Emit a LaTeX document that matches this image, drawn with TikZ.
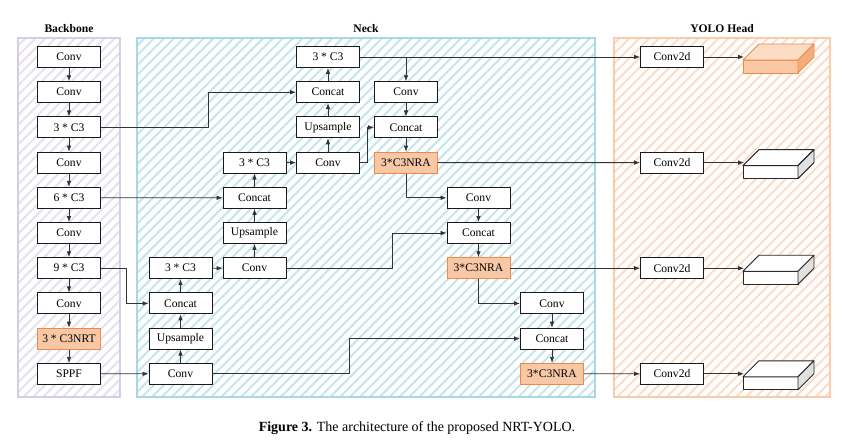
\documentclass[tikz,border=0pt]{standalone}
\usepackage{fontspec}
\setmainfont{Liberation Serif}
\usepackage{tikz}
\usetikzlibrary{patterns.meta, arrows.meta}

\definecolor{nraFill}{HTML}{F8C8A6}
\definecolor{nraLine}{HTML}{EE8A45}
\definecolor{bbHatch}{HTML}{E6E0EF}
\definecolor{bbLine}{HTML}{D5CCE5}
\definecolor{nkHatch}{HTML}{C4E4EE}
\definecolor{nkLine}{HTML}{A8D8E6}
\definecolor{hdHatch}{HTML}{FCDCC6}
\definecolor{hdLine}{HTML}{F9CBA8}
\definecolor{cubeTop}{HTML}{FBDDC6}
\definecolor{cubeSide}{HTML}{F4AE7C}

% 立方体: 名称, y, 正面, 顶面, 侧面, 边线
\newcommand{\drawcube}[6]{%
    \coordinate (#1) at (744,#2);
    \filldraw[fill=#3, draw=#6, line width=0.9pt, line join=round] (743,#2+3) rectangle ++(55,13);
    \filldraw[fill=#4, draw=#6, line width=0.9pt, line join=round] (743,#2+3) -- ++(16,-16) -- ++(55,0) -- ++(-16,16) -- cycle;
    \filldraw[fill=#5, draw=#6, line width=0.9pt, line join=round] (798,#2+3) -- ++(16,-16) -- ++(0,13) -- ++(-16,16) -- cycle;
}

\begin{document}
\begin{tikzpicture}[
                x=1pt, y=-1pt,
                node distance=35.2pt,
                every node/.style={font=\fontsize{11.6}{13}\selectfont},
                blk/.style={draw=black!90, fill=white, line width=0.9pt, minimum width=63pt, minimum height=21pt, inner sep=0pt},
                nra/.style={blk, fill=nraFill, draw=nraLine},
                title/.style={font=\fontsize{11.6}{13}\selectfont\bfseries},
                hatch/.style={pattern={Lines[angle=45,distance=7pt,line width=2pt]}},
                >={Latex[length=6pt,width=4.6pt]},
                arrow/.style={->, line width=0.8pt, draw=black!80}
            ]
                \useasboundingbox (0,0) rectangle (848,440);

                % 背景区域
                \path[hatch, pattern color=bbHatch] (18,38) rectangle (120,397);
                \draw[bbLine, line width=1.2pt] (18,38) rectangle (120,397);
                \path[hatch, pattern color=nkHatch] (137,38) rectangle (595,397);
                \draw[nkLine, line width=1.2pt] (137,38) rectangle (595,397);
                \path[hatch, pattern color=hdHatch] (614,38) rectangle (830,397);
                \draw[hdLine, line width=1.2pt] (614,38) rectangle (830,397);

                \node[title] (tb) at (69,29) {Backbone};
                \node[title] (tn) at (366,29) {Neck};
                \node[title] (th) at (722,29) {YOLO Head};

                % Backbone
                \node[blk] (b1) at (69,57) {Conv};
                \node[blk] (b2) [below of=b1] {Conv};
                \node[blk] (b3) [below of=b2] {3 * C3};
                \node[blk] (b4) [below of=b3] {Conv};
                \node[blk] (b5) [below of=b4] {6 * C3};
                \node[blk] (b6) [below of=b5] {Conv};
                \node[blk] (b7) [below of=b6] {9 * C3};
                \node[blk] (b8) [below of=b7] {Conv};
                \node[nra] (b9) [below of=b8] {3 * C3NRT};
                \node[blk] (b10) [below of=b9] {SPPF};

                % Neck
                \node[blk] (n1a) at (180.5,373.8) {Conv};
                \node[blk] (n1b) [above of=n1a] {Upsample};
                \node[blk] (n1c) [above of=n1b] {Concat};
                \node[blk] (n1d) [above of=n1c] {3 * C3};

                \node[blk] (n2a) at (254.5,268.2) {Conv};
                \node[blk] (n2b) [above of=n2a] {Upsample};
                \node[blk] (n2c) [above of=n2b] {Concat};
                \node[blk] (n2d) [above of=n2c] {3 * C3};

                \node[blk] (n3a) at (328,162.6) {Conv};
                \node[blk] (n3b) [above of=n3a] {Upsample};
                \node[blk] (n3c) [above of=n3b] {Concat};
                \node[blk] (n3d) [above of=n3c] {3 * C3};

                \node[blk] (n4a) at (406,92.2) {Conv};
                \node[blk] (n4b) [below of=n4a] {Concat};
                \node[nra] (n4c) [below of=n4b] {3*C3NRA};

                \node[blk] (n5a) at (478.5,197.8) {Conv};
                \node[blk] (n5b) [below of=n5a] {Concat};
                \node[nra] (n5c) [below of=n5b] {3*C3NRA};

                \node[blk] (n6a) at (552,303.4) {Conv};
                \node[blk] (n6b) [below of=n6a] {Concat};
                \node[nra] (n6c) [below of=n6b] {3*C3NRA};

                % Head
                \node[blk] (h1) at (672,57) {Conv2d};
                \node[blk] (h2) at (672,162.6) {Conv2d};
                \node[blk] (h3) at (672,268.2) {Conv2d};
                \node[blk] (h4) at (672,373.8) {Conv2d};

                \drawcube{c1}{57}{nraFill}{cubeTop}{cubeSide}{nraLine}
                \drawcube{c2}{162.6}{white}{white}{black!12}{black!85}
                \drawcube{c3}{268.2}{white}{white}{black!12}{black!85}
                \drawcube{c4}{373.8}{white}{white}{black!12}{black!85}

                % 边
                \foreach \a/\b in {b1/b2, b2/b3, b3/b4, b4/b5, b5/b6, b6/b7, b7/b8, b8/b9, b9/b10,
                                   n1a/n1b, n1b/n1c, n1c/n1d, n2a/n2b, n2b/n2c, n2c/n2d,
                                   n3a/n3b, n3b/n3c, n3c/n3d, n4a/n4b, n4b/n4c,
                                   n5a/n5b, n5b/n5c, n6a/n6b, n6b/n6c}
                    \draw[arrow] (\a) -- (\b);

                \draw[arrow] (b10) -- (n1a);
                \draw[arrow] (b7.east) -- ++(25,0) |- (n1c.west);
                \draw[arrow] (b5) -- (n2c);
                \draw[arrow] (b3.east) -- ++(107,0) |- (n3c.west);
                \draw[arrow] (n1d) -- (n2a);
                \draw[arrow] (n2d) -- (n3a);
                \draw[arrow] (n3d) -- (h1);
                \draw[arrow] (n3d.east -| n4a.north) -- (n4a);
                \draw[arrow] (n3a.east) -- ++(7,0) |- (n4b.west);
                \draw[arrow] (n4c) -- (h2);
                \draw[arrow] (n4c.south) |- (n5a.west);
                \draw[arrow] (n2a.east) -- ++(106,0) |- (n5b.west);
                \draw[arrow] (n5c) -- (h3);
                \draw[arrow] (n5c.south) |- (n6a.west);
                \draw[arrow] (n1a.east) -- ++(137,0) |- (n6b.west);
                \draw[arrow] (n6c) -- (h4);

                \draw[arrow] (h1) -- (c1);
                \draw[arrow] (h2) -- (c2);
                \draw[arrow] (h3) -- (c3);
                \draw[arrow] (h4) -- (c4);

                % 标题
                \node (cap) at (417,428) {\fontsize{14}{16}\selectfont\textbf{Figure 3.} The architecture of the proposed NRT-YOLO.};
            \end{tikzpicture}
\end{document}
